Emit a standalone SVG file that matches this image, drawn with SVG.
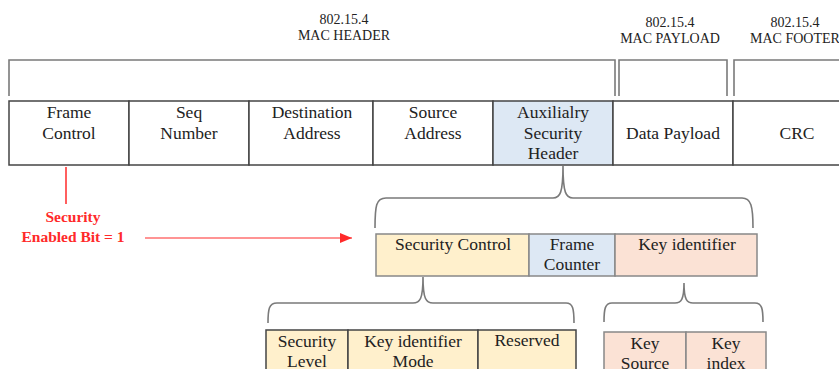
<svg xmlns="http://www.w3.org/2000/svg" width="839" height="369" viewBox="0 0 839 369">
  <style>
    .lbl { fill: #222; text-anchor: middle; }
    .top { font-size: 14px; }
    .cell { font-size: 17.5px; }
    .red { font-weight: bold; font-size: 15.5px; fill: #ff2a2a; text-anchor: middle; }
    .frame { fill: #ffffff; stroke: #444; stroke-width: 1.5; }
    .sub { stroke: #888; stroke-width: 1.5; }
    .dark { stroke: #444; stroke-width: 1.5; }
    .brace { fill: none; stroke: #7a7a7a; stroke-width: 1.6; }
    .blue { fill: #dde8f4; }
    .yel { fill: #fff0cc; }
    .peach { fill: #fbe2d5; }
  </style>
  <defs>
    <marker id="redArrow" markerWidth="12" markerHeight="10" refX="12" refY="5" orient="auto" markerUnits="userSpaceOnUse">
      <path d="M0,0 L12,5 L0,10 Z" fill="#ff2a2a"/>
    </marker>
  </defs>
  <rect width="839" height="369" fill="#ffffff"/>

  <g font-family="Liberation Serif, serif">
  <!-- section labels -->
  <g id="label-header">
    <text class="lbl top" x="344" y="24">802.15.4</text>
    <text class="lbl top" x="344" y="40">MAC HEADER</text>
  </g>
  <g id="label-payload">
    <text class="lbl top" x="670" y="27">802.15.4</text>
    <text class="lbl top" x="670" y="43">MAC PAYLOAD</text>
  </g>
  <g id="label-footer">
    <text class="lbl top" x="795" y="27">802.15.4</text>
    <text class="lbl top" x="795" y="43">MAC FOOTER</text>
  </g>

  <!-- connectors: section brackets, braces, red marker -->
  <g id="connectors">
    <path class="brace" d="M9,96 L9,60 L615,60 L615,96"/>
    <path class="brace" d="M619,96 L619,60 L727,60 L727,96"/>
    <path class="brace" d="M734,96 L734,60 L845,60"/>

    <path class="brace" d="M375,228 C375,206 376,198 386,198 L553,198 C560,198 563,193 563,166 C563,193 566,198 573,198 L742,198 C751,198 753,206 753,228"/>
    <path class="brace" d="M268,323 C268,309 269,303 277,303 L413,303 C420,303 423,299 423,277 C423,299 426,303 433,303 L566,303 C573,303 574,309 574,323"/>
    <path class="brace" d="M604,322 C604,309 605,303 612,303 L675,303 C681,303 684,300 684,283 C684,300 687,303 693,303 L755,303 C762,303 763,309 763,322"/>

    <line x1="66" y1="167" x2="66" y2="204" stroke="#ff2a2a" stroke-width="1.5"/>
    <line x1="145" y1="238" x2="352" y2="238" stroke="#ff2a2a" stroke-width="1.2" marker-end="url(#redArrow)"/>
  </g>

  <!-- MAC frame row -->
  <g id="frame-control">
    <rect class="frame" x="9" y="101" width="120" height="64"/>
    <text class="lbl cell" x="69" y="118">Frame</text>
    <text class="lbl cell" x="69" y="139">Control</text>
  </g>
  <g id="seq-number">
    <rect class="frame" x="129" y="101" width="120" height="64"/>
    <text class="lbl cell" x="189" y="118">Seq</text>
    <text class="lbl cell" x="189" y="139">Number</text>
  </g>
  <g id="destination-address">
    <rect class="frame" x="249" y="101" width="124" height="64"/>
    <text class="lbl cell" x="312" y="118">Destination</text>
    <text class="lbl cell" x="312" y="139">Address</text>
  </g>
  <g id="source-address">
    <rect class="frame" x="373" y="101" width="120" height="64"/>
    <text class="lbl cell" x="433" y="118">Source</text>
    <text class="lbl cell" x="433" y="139">Address</text>
  </g>
  <g id="aux-security-header">
    <rect class="frame blue" x="493" y="101" width="120" height="64"/>
    <text class="lbl cell" x="553" y="118">Auxilialry</text>
    <text class="lbl cell" x="553" y="139">Security</text>
    <text class="lbl cell" x="553" y="159">Header</text>
  </g>
  <g id="data-payload">
    <rect class="frame" x="613" y="101" width="120" height="64"/>
    <text class="lbl cell" x="673" y="139">Data Payload</text>
  </g>
  <g id="crc">
    <rect class="frame" x="733" y="101" width="120" height="64"/>
    <text class="lbl cell" x="797" y="139">CRC</text>
  </g>

  <!-- auxiliary security header fields -->
  <g id="security-control">
    <rect class="yel sub" x="376" y="234" width="153" height="42"/>
    <text class="lbl cell" x="453" y="250">Security Control</text>
  </g>
  <g id="frame-counter">
    <rect class="blue sub" x="529" y="234" width="86" height="42"/>
    <text class="lbl cell" x="572" y="250">Frame</text>
    <text class="lbl cell" x="572" y="270">Counter</text>
  </g>
  <g id="key-identifier">
    <rect class="peach sub" x="615" y="234" width="142" height="42"/>
    <text class="lbl cell" x="687" y="250">Key identifier</text>
  </g>

  <!-- security control fields -->
  <g id="security-level">
    <rect class="yel dark" x="266" y="330" width="82" height="50"/>
    <text class="lbl cell" x="307" y="347">Security</text>
    <text class="lbl cell" x="307" y="367">Level</text>
  </g>
  <g id="key-identifier-mode">
    <rect class="yel dark" x="348" y="330" width="130" height="50"/>
    <text class="lbl cell" x="413" y="347">Key identifier</text>
    <text class="lbl cell" x="413" y="367">Mode</text>
  </g>
  <g id="reserved">
    <rect class="yel dark" x="478" y="330" width="98" height="50"/>
    <text class="lbl cell" x="527" y="346">Reserved</text>
  </g>

  <!-- key identifier fields -->
  <g id="key-source">
    <rect class="peach sub" x="604" y="332" width="82" height="50"/>
    <text class="lbl cell" x="645" y="349">Key</text>
    <text class="lbl cell" x="645" y="369">Source</text>
  </g>
  <g id="key-index">
    <rect class="peach sub" x="686" y="332" width="80" height="50"/>
    <text class="lbl cell" x="726" y="349">Key</text>
    <text class="lbl cell" x="726" y="369">index</text>
  </g>

  <!-- security flag note -->
  <g id="security-flag">
    <text class="red" x="73" y="222">Security</text>
    <text class="red" x="73" y="242">Enabled Bit = 1</text>
  </g>
  </g>
</svg>
